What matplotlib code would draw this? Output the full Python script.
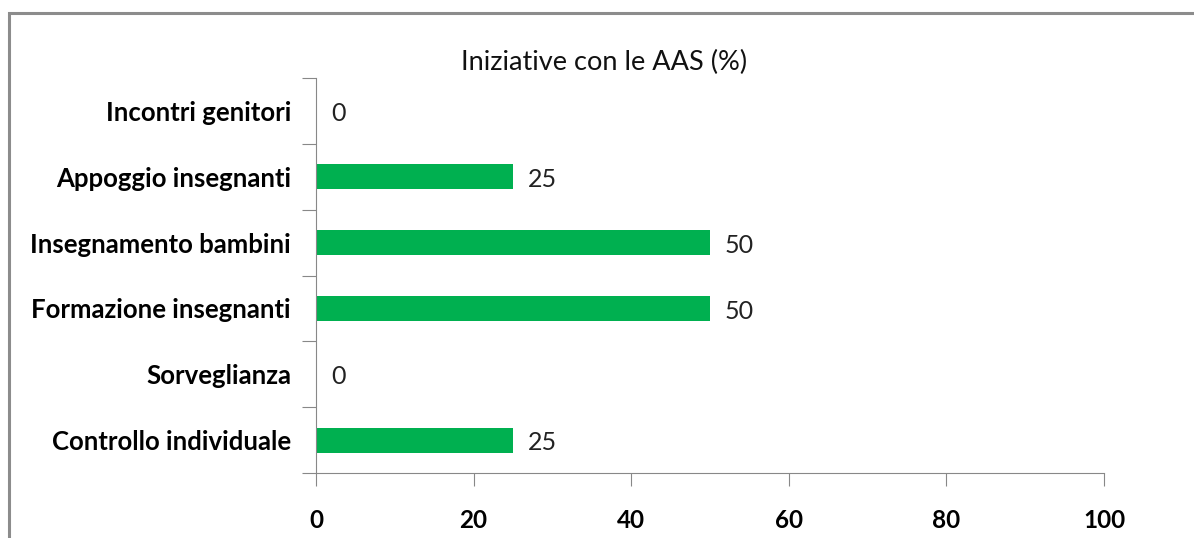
import matplotlib.pyplot as plt
from matplotlib.patches import Rectangle

# dati
categorie = ['Controllo individuale', 'Sorveglianza', 'Formazione insegnanti',
             'Insegnamento bambini', 'Appoggio insegnanti', 'Incontri genitori']
valori = [25, 0, 50, 50, 25, 0]
xticks = [0, 20, 40, 60, 80, 100]

plt.rcParams['font.family'] = ['Lato', 'DejaVu Sans']

fig = plt.figure(figsize=(11.94, 5.38), dpi=100)
ax = fig.add_axes([316 / 1194, 1 - 473 / 538, (1104 - 316) / 1194, (473 - 78) / 538])

pos = list(range(len(categorie)))
ax.barh(pos, valori, height=0.38, color='#00B050')

for p, v in zip(pos, valori):
    ax.text(v + 1.9, p - 0.04, str(v), va='center', ha='left', fontsize=18, color='#222222')

ax.set_xlim(0, 100)
ax.set_ylim(-0.5, len(categorie) - 0.5)
ax.set_xticks(xticks)
ax.set_xticklabels([str(t) for t in xticks], fontsize=17.5, fontweight='bold')

# tick sui bordi delle categorie, etichette al centro
ax.set_yticks([p - 0.5 for p in pos] + [len(categorie) - 0.5])
ax.set_yticklabels([])
ax.set_yticks(pos, minor=True)
ax.set_yticklabels(categorie, minor=True, fontsize=18.5, fontweight='bold')
ax.tick_params(axis='y', which='minor', length=0, pad=18)
ax.tick_params(axis='y', which='major', length=10, color='#888888', direction='out')
ax.tick_params(axis='x', length=9, color='#888888', pad=17)

for s in ['top', 'right']:
    ax.spines[s].set_visible(False)
ax.spines['left'].set_color('#888888')
ax.spines['bottom'].set_color('#888888')

fig.text(604 / 1194, 1 - 62 / 538, 'Iniziative con le AAS (%)', ha='center', va='center',
         fontsize=19.5, color='#111111')

# cornice del grafico
fig.patches.append(Rectangle((9 / 1194, -0.1), 1.2, 1 - 13 / 538 + 0.1,
                             transform=fig.transFigure, fill=False,
                             edgecolor='#8c8c8c', linewidth=2.2))

fig.savefig('out.png', dpi=100)
